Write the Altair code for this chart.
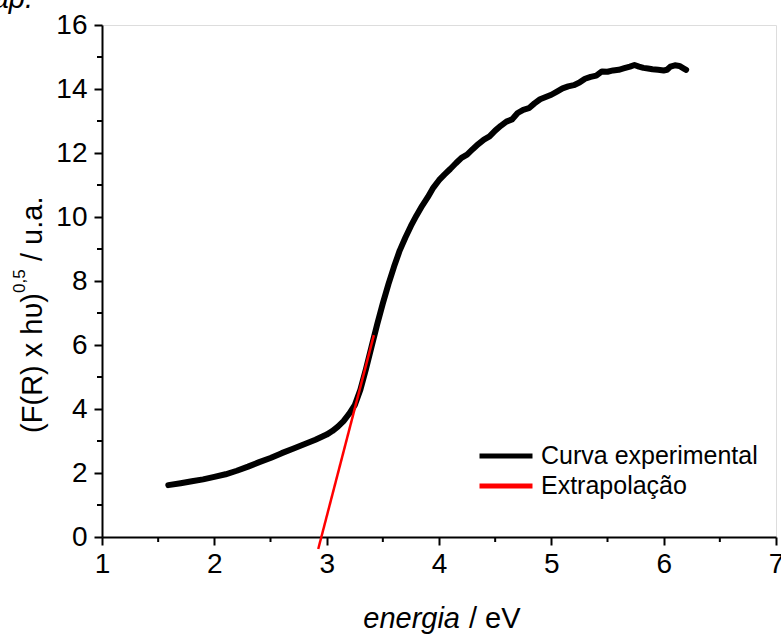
import altair as alt
import pandas as pd

# ---------------- data ----------------
energy = [1.59, 1.70, 1.80, 1.90, 2.00, 2.10, 2.20, 2.30, 2.40, 2.50, 2.60, 2.70,
          2.80, 2.90, 3.00, 3.05, 3.10, 3.15, 3.20, 3.25, 3.30, 3.35, 3.40, 3.45,
          3.50, 3.55, 3.60, 3.65, 3.70, 3.75, 3.80, 3.85, 3.90, 3.95, 4.00, 4.05,
          4.10, 4.15, 4.20, 4.25, 4.30, 4.35, 4.40, 4.45, 4.50, 4.55, 4.60, 4.65,
          4.70, 4.75, 4.80, 4.85, 4.90, 4.95, 5.00, 5.05, 5.10, 5.15, 5.20, 5.25,
          5.30, 5.35, 5.40, 5.45, 5.50, 5.55, 5.60, 5.65, 5.70, 5.74, 5.78, 5.82,
          5.86, 5.90, 5.95, 6.00, 6.03, 6.06, 6.10, 6.14, 6.18, 6.20]
signal = [1.62, 1.68, 1.74, 1.80, 1.88, 1.96, 2.07, 2.20, 2.34, 2.47, 2.62, 2.76,
          2.90, 3.04, 3.20, 3.31, 3.45, 3.62, 3.85, 4.12, 4.60, 5.25, 5.95, 6.65,
          7.30, 7.90, 8.45, 8.95, 9.35, 9.72, 10.05, 10.35, 10.62, 10.92, 11.15, 11.33,
          11.50, 11.68, 11.85, 11.95, 12.12, 12.28, 12.42, 12.52, 12.70, 12.85, 12.98, 13.05,
          13.25, 13.35, 13.40, 13.55, 13.68, 13.75, 13.82, 13.92, 14.02, 14.08, 14.12, 14.20,
          14.32, 14.38, 14.42, 14.55, 14.54, 14.58, 14.60, 14.65, 14.70, 14.75, 14.70, 14.66,
          14.64, 14.62, 14.60, 14.58, 14.60, 14.70, 14.74, 14.72, 14.64, 14.60]

fit_energy = [2.925, 3.42]
fit_signal = [-0.375, 6.31]

series_names = ["Curva experimental", "Extrapolação"]
series_colors = ["black", "red"]

x_ticks = [1, 2, 3, 4, 5, 6, 7]
x_minor = [1.5, 2.5, 3.5, 4.5, 5.5, 6.5]
y_ticks = [0, 2, 4, 6, 8, 10, 12, 14, 16]
y_minor = [1, 3, 5, 7, 9, 11, 13, 15]

curve_df = pd.DataFrame({"energia": energy, "valor": signal, "serie": series_names[0]})
fit_df = pd.DataFrame({"energia": fit_energy, "valor": fit_signal, "serie": series_names[1]})
xminor_df = pd.DataFrame({"energia": x_minor})
yminor_df = pd.DataFrame({"valor": y_minor})

FONT = "Liberation Sans"
W, H = 674, 512

xs = alt.Scale(domain=[1, 7], nice=False, zero=False)
ys = alt.Scale(domain=[0, 16], nice=False, zero=False)

x_axis = alt.Axis(values=x_ticks, title=None, grid=False, tickSize=8, tickWidth=2,
                  domainWidth=2, domainColor="black", tickColor="black",
                  labelFont=FONT, labelFontSize=28, labelColor="black", labelPadding=5,
                  labelFlush=False, format="d")
y_axis = alt.Axis(values=y_ticks, title=None, grid=False, tickSize=8, tickWidth=2,
                  domainWidth=2, domainColor="black", tickColor="black",
                  labelFont=FONT, labelFontSize=28, labelColor="black", labelPadding=7,
                  labelFlush=False, format="d")

color = alt.Color(
    "serie:N",
    scale=alt.Scale(domain=series_names, range=series_colors),
    legend=alt.Legend(orient="none", legendX=388, legendY=415, title=None,
                      symbolType="M-2,0H2", symbolSize=702, symbolStrokeWidth=5,
                      labelFont=FONT, labelFontSize=25, labelColor="black",
                      labelOffset=19, labelLimit=400, padding=0, rowPadding=1),
)

curve = alt.Chart(curve_df).mark_line(strokeWidth=6, strokeJoin="round", strokeCap="round").encode(
    x=alt.X("energia:Q", scale=xs, axis=x_axis),
    y=alt.Y("valor:Q", scale=ys, axis=y_axis),
    color=color,
)

fit = alt.Chart(fit_df).mark_line(strokeWidth=2.5, clip=False).encode(
    x=alt.X("energia:Q", scale=xs, axis=x_axis),
    y=alt.Y("valor:Q", scale=ys, axis=y_axis),
    color=color,
)

xminor = alt.Chart(xminor_df).mark_rule(color="black", strokeWidth=2).encode(
    x=alt.X("energia:Q", scale=xs, axis=x_axis),
    y=alt.value(H),
    y2=alt.value(H + 5),
)
yminor = alt.Chart(yminor_df).mark_rule(color="black", strokeWidth=2).encode(
    y=alt.Y("valor:Q", scale=ys, axis=y_axis),
    x=alt.value(0),
    x2=alt.value(-5),
)

# axis titles (mixed styles / superscript)
xt1 = alt.Chart().mark_text(text="energia", font=FONT, fontSize=29, fontStyle="italic",
                            align="right", baseline="alphabetic", color="black").encode(
    x=alt.value(358), y=alt.value(603))
xt2 = alt.Chart().mark_text(text="/ eV", font=FONT, fontSize=29,
                            align="left", baseline="alphabetic", color="black").encode(
    x=alt.value(367), y=alt.value(603))

yt1 = alt.Chart().mark_text(text="(F(R) x h\u03c5)", font=FONT, fontSize=29, angle=270,
                            align="right", baseline="alphabetic", color="black").encode(
    x=alt.value(-60), y=alt.value(268))
yt2 = alt.Chart().mark_text(text="0,5", font=FONT, fontSize=17, angle=270,
                            align="left", baseline="alphabetic", color="black").encode(
    x=alt.value(-77), y=alt.value(268))
yt3 = alt.Chart().mark_text(text="/ u.a.", font=FONT, fontSize=29, angle=270,
                            align="left", baseline="alphabetic", color="black").encode(
    x=alt.value(-60), y=alt.value(236))

cut = alt.Chart().mark_text(text="ap.", font=FONT, fontSize=29, fontStyle="italic",
                            align="right", baseline="alphabetic", color="black").encode(
    x=alt.value(-69), y=alt.value(-17))

chart = alt.layer(curve, fit, xminor, yminor, xt1, xt2, yt1, yt2, yt3, cut).properties(
    width=W, height=H,
    autosize=alt.AutoSizeParams(type="none"),
    padding={"left": 102, "top": 25, "right": 5, "bottom": 97},
).configure_view(stroke="black", strokeWidth=2).configure(background="white")

chart.save("out.html", embed_options={"renderer": "svg", "actions": False})
